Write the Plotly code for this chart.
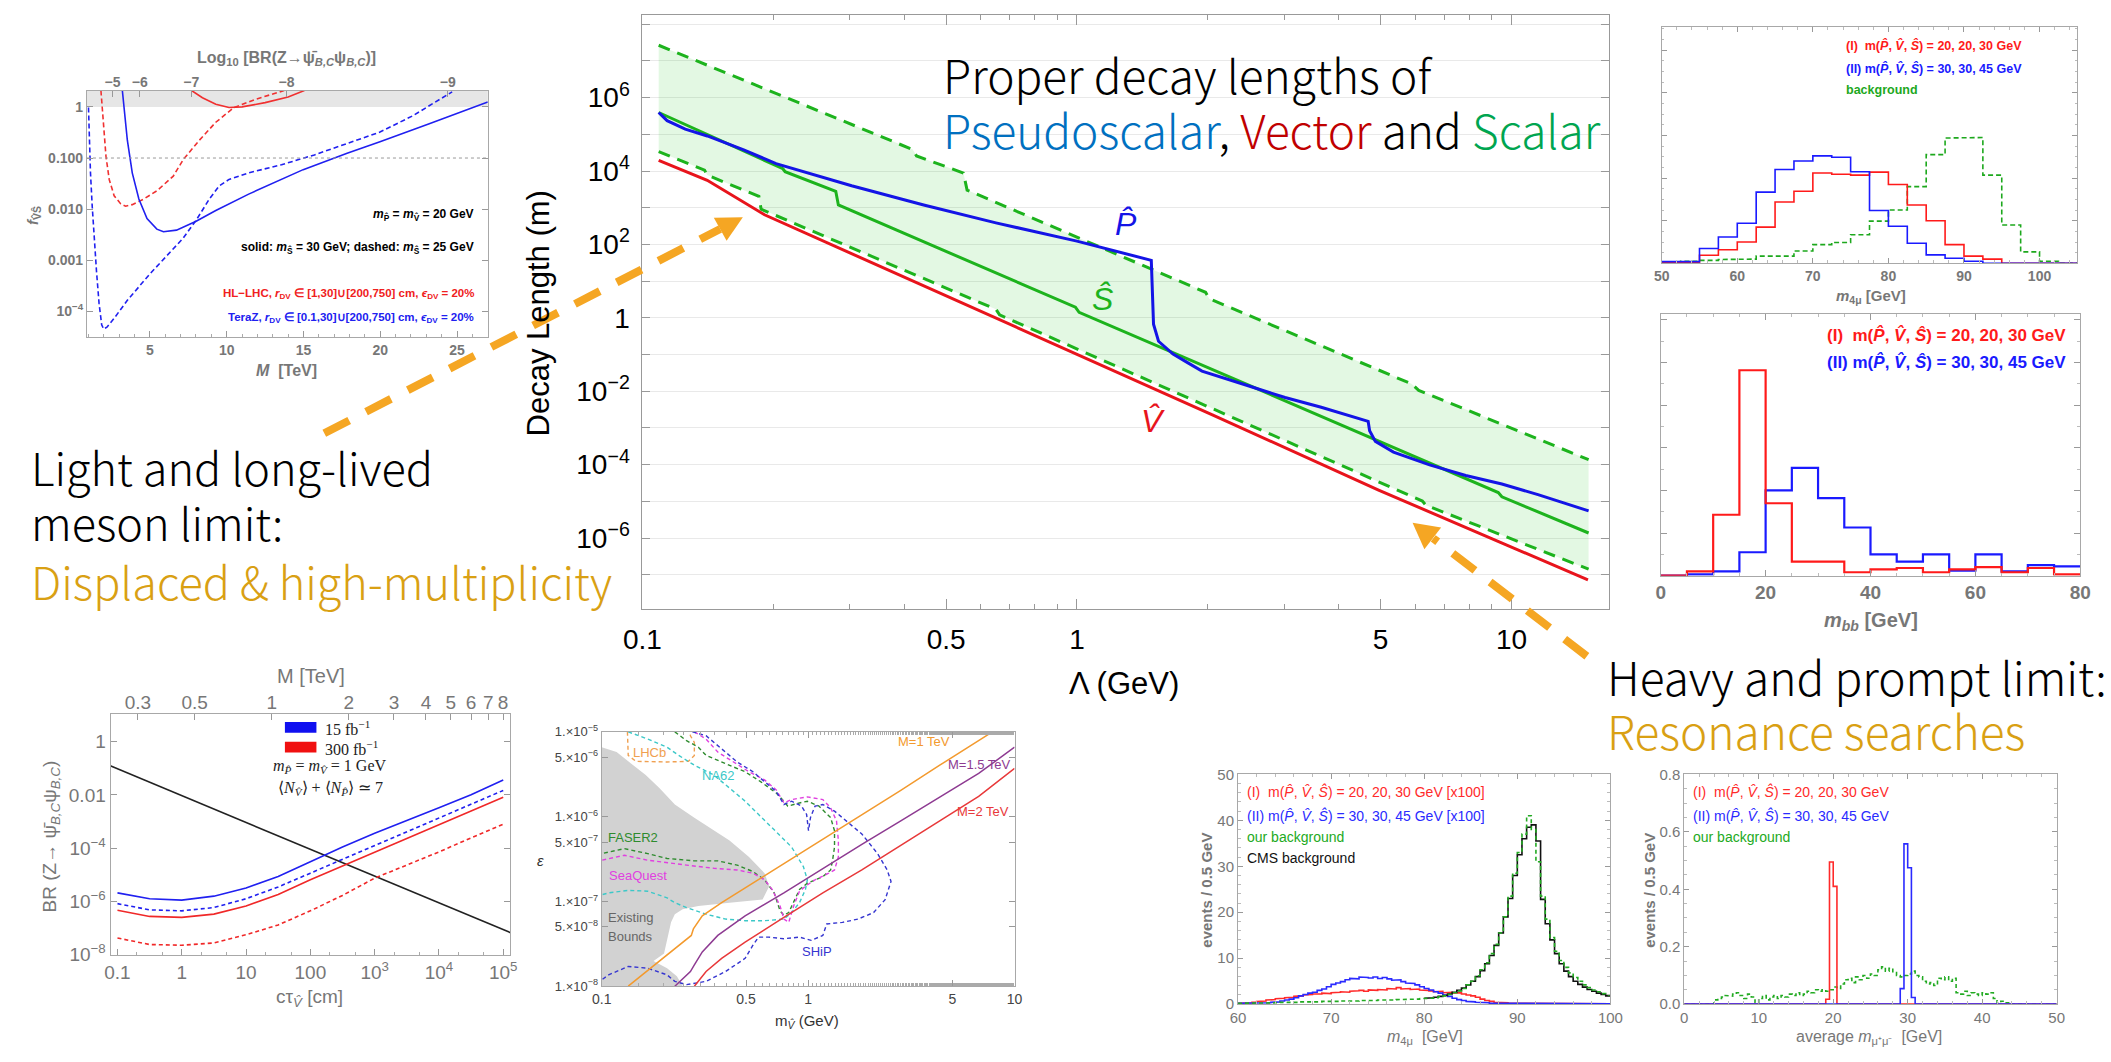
import plotly.graph_objects as go

W, H = 2111, 1062

# ================= MAIN CHART DATA (Lambda in GeV, decay length in m) =================
lam_red = [0.109, 0.141, 0.191, 0.444, 1.0, 2.05, 4.96, 15.0]
L_red = [1.95e4, 5.6e3, 643, 7.41, 0.1, 2.29e-3, 2.0e-5, 7.3e-8]

lam_s_up = [0.109, 0.419, 0.4275, 0.548, 0.5588, 1.977, 2.016, 5.888, 6.117, 15.05]
L_s_up = [2.67e7, 3.84e4, 2.57e4, 8.83e3, 3.03e3, 4.97, 3.33, 1.59e-2, 1.06e-2, 1.37e-4]

lam_s_lo = [0.109, 0.139, 0.141, 0.1854, 0.1876, 0.651, 0.6637, 6.237, 6.358, 15.05]
L_s_lo = [3.36e4, 1.06e4, 7.73e3, 2.03e3, 910, 1.71, 1.205, 1.02e-5, 7.83e-6, 1.42e-7]

lam_s = [0.109, 0.2105, 0.213, 0.2786, 0.2825, 0.992, 1.0116, 9.324, 9.504, 15.05]
L_s = [3.93e5, 1.153e4, 9.57e3, 2.80e3, 1.19e3, 1.95, 1.416, 1.746e-5, 1.337e-5, 1.377e-6]

lam_p = [0.109, 0.114, 0.1255, 0.141, 0.1705, 0.203, 0.303, 0.444, 0.651, 1.0, 1.483, 1.5006,
         1.541, 1.664, 1.797, 1.940, 2.488, 3.013, 3.649, 4.680, 4.716, 4.862, 5.352, 6.48,
         7.848, 9.504, 11.51, 15.05]
L_p = [3.93e5, 2.36e5, 1.384e5, 9.02e4, 3.84e4, 1.589e4, 3.96e3, 1.189e3, 387, 123, 36.9, 0.67,
       0.23, 0.103, 0.0604, 0.0354, 0.0139, 6.76e-3, 3.66e-3, 1.51e-3, 8.41e-4, 4.32e-4, 2.21e-4,
       9.91e-5, 5.08e-5, 2.98e-5, 1.53e-5, 5.53e-6]

main_x_ticks = [0.1, 0.5, 1, 5, 10]
main_x_ticktext = ["0.1", "0.5", "1", "5", "10"]
main_x_minor = [0.2, 0.3, 0.4, 0.6, 0.7, 0.8, 0.9, 2, 3, 4, 6, 7, 8, 9]
main_y_ticks = [1e-7, 1e-6, 1e-5, 1e-4, 1e-3, 1e-2, 1e-1, 1, 1e1, 1e2, 1e3, 1e4, 1e5, 1e6, 1e7, 1e8]
main_y_ticktext = ["", "10<sup>−6</sup>", "", "10<sup>−4</sup>", "", "10<sup>−2</sup>", "", "1",
                   "", "10<sup>2</sup>", "", "10<sup>4</sup>", "", "10<sup>6</sup>", "", ""]

# ================= PANEL A: f vs M [TeV] =================
a_M_bs = [3.205, 3.31, 3.53, 3.85, 4.28, 4.81, 5.45, 5.88, 6.73, 8.01, 9.29, 11.43, 14.98, 17.84, 19.98, 23.19, 27.0]
a_f_bs = [2.09, 0.97, 0.223, 0.0513, 0.0158, 6.53e-3, 4.07e-3, 3.63e-3, 3.89e-3, 5.81e-3, 9.42e-3, 0.0197,
          0.0593, 0.124, 0.207, 0.466, 1.25]
a_M_bd = [1.0, 1.05, 1.13, 1.24, 1.37, 1.52, 1.69, 1.86, 1.99, 2.20, 2.67, 3.53, 4.98, 6.09, 7.16, 8.01,
          8.87, 9.51, 10.15, 11.43, 13.57, 15.71, 17.84, 19.98, 22.12, 24.68]
a_f_bd = [0.97, 0.223, 0.0513, 0.01175, 2.70e-3, 6.19e-4, 1.42e-4, 5.47e-5, 4.52e-5, 4.93e-5, 7.35e-5,
          1.65e-4, 5.35e-4, 1.20e-3, 2.70e-3, 6.07e-3, 0.0158, 0.0284, 0.0381, 0.0513, 0.074, 0.115,
          0.192, 0.322, 0.671, 1.97]
a_M_rd = [1.81, 1.99, 2.14, 2.35, 2.67, 3.10, 3.42, 3.85, 4.60, 5.45, 6.52, 7.16, 8.22, 9.29, 10.47, 11.86, 13.74]
a_f_rd = [2.09, 0.466, 0.107, 0.0381, 0.0183, 0.01265, 0.01143, 0.01227, 0.0158, 0.0228, 0.0442, 0.0922,
          0.223, 0.501, 0.97, 1.40, 2.09]
a_M_rs = [7.71, 8.42, 9.29, 10.15, 11.0, 12.5, 14.0, 15.06]
a_f_rs = [2.09, 1.51, 1.125, 0.97, 1.0, 1.21, 1.556, 2.09]
a_top_M = [2.56, 4.34, 7.69, 13.9, 24.4]
a_top_text = ["−5", "−6", "−7", "−8", "−9"]
a_y_ticks = [1e-4, 1e-3, 1e-2, 0.1, 1]
a_y_text = ["10<sup>−4</sup>", "0.001", "0.010", "0.100", "1"]

# ================= PANEL B: m_4mu-like histogram (2.5 GeV bins from 50) =================
b_start, b_width = 50.0, 2.5
b_blue = [0.004, 0.004, 0.035, 0.062, 0.094, 0.167, 0.220, 0.240, 0.252, 0.249, 0.215, 0.124, 0.087,
          0.047, 0.020, 0.012, 0.005, 0, 0, 0, 0, 0]
b_red = [0.002, 0.002, 0.019, 0.032, 0.050, 0.085, 0.144, 0.169, 0.212, 0.209, 0.207, 0.214, 0.185,
         0.137, 0.100, 0.044, 0.017, 0.010, 0, 0, 0, 0]
b_green = [0.002, 0.005, 0.007, 0.009, 0.010, 0.017, 0.017, 0.029, 0.044, 0.049, 0.067, 0.099, 0.125,
           0.180, 0.255, 0.294, 0.295, 0.207, 0.090, 0.027, 0.005, 0]

# ================= PANEL C: m_bb histogram (5 GeV bins) =================
c_start, c_width = 0.0, 5.0
c_red = [0, 0.010, 0.143, 0.482, 0.170, 0.033, 0.033, 0.008, 0.015, 0.018, 0.008, 0.015, 0.020, 0.008, 0.018, 0.003]
c_blue = [0, 0.003, 0.010, 0.055, 0.200, 0.253, 0.182, 0.113, 0.050, 0.033, 0.050, 0.012, 0.050, 0.010, 0.025, 0.022]

# ================= PANEL D: BR vs c tau [cm] =================
d_ctau = [0.1, 0.316, 1, 3.16, 10, 31.6, 100, 316, 1000, 3160, 1e4, 3.16e4, 1e5]
d_blue_s = [2.07e-6, 1.25e-6, 1.11e-6, 1.56e-6, 3.18e-6, 8.55e-6, 3.06e-5, 1.09e-4, 3.60e-4, 1.05e-3, 3.27e-3, 0.0102, 0.0364]
d_blue_d = [8.15e-7, 4.76e-7, 4.38e-7, 5.81e-7, 1.25e-6, 3.46e-6, 1.14e-5, 3.73e-5, 1.26e-4, 3.92e-4, 1.32e-3, 4.35e-3, 0.0147]
d_red_s = [4.62e-7, 2.70e-7, 2.48e-7, 3.30e-7, 6.68e-7, 1.80e-6, 6.44e-6, 2.12e-5, 7.16e-5, 2.22e-4, 7.52e-4, 2.47e-3, 8.11e-3]
d_red_d = [4.17e-8, 2.37e-8, 2.23e-8, 2.72e-8, 5.53e-8, 1.29e-7, 4.38e-7, 1.66e-6, 7.43e-6, 2.31e-5, 7.16e-5, 2.42e-4, 7.94e-4]
d_black_ctau = [0.075, 1.3e5]
d_black_br = [0.127, 6.6e-8]
d_x_ticks = [0.1, 1, 10, 100, 1e3, 1e4, 1e5]
d_x_text = ["0.1", "1", "10", "100", "10<sup>3</sup>", "10<sup>4</sup>", "10<sup>5</sup>"]
d_y_ticks = [1, 1e-2, 1e-4, 1e-6, 1e-8]
d_y_text = ["1", "0.01", "10<sup>−4</sup>", "10<sup>−6</sup>", "10<sup>−8</sup>"]
d_top_ticks = [0.3, 0.5, 1, 2, 3, 4, 5, 6, 7, 8]

# ================= PANEL E: epsilon vs m_V [GeV] =================
e_bound_m = [0.1, 0.118, 0.1344, 0.1633, 0.1902, 0.226, 0.281, 0.3495, 0.416, 0.517, 0.615, 0.6477, 0.6015,
             0.416, 0.2938, 0.2466, 0.226, 0.2167, 0.2073, 0.2004, 0.1782, 0.2073, 0.2313, 0.2466, 0.1]
e_bound_eps = [6.59e-6, 5.77e-6, 4.49e-6, 3.09e-6, 2.17e-6, 1.39e-6, 9.73e-7, 6.82e-7, 5.22e-7, 3.35e-7,
               2.15e-7, 1.51e-7, 1.05e-7, 9.65e-8, 8.83e-8, 8.08e-8, 7.07e-8, 5.66e-8, 3.63e-8, 2.43e-8,
               1.98e-8, 1.63e-8, 1.31e-8, 1.0e-8, 1.0e-8]
e_m1_m = [0.1344, 0.1902, 0.2466, 0.2716, 0.278, 0.307, 0.381, 0.495, 0.763, 1.178, 1.82, 2.81, 4.34, 7.81]
e_m1_eps = [1.0e-8, 1.98e-8, 3.32e-8, 3.97e-8, 4.74e-8, 6.76e-8, 9.65e-8, 1.44e-7, 2.75e-7, 5.37e-7,
            1.045e-6, 2.04e-6, 4.04e-6, 1.0e-5]
e_m15_m = [0.226, 0.2689, 0.281, 0.307, 0.365, 0.495, 0.763, 1.178, 1.82, 2.81, 4.34, 6.70, 10.0]
e_m15_eps = [1.0e-8, 1.49e-8, 1.78e-8, 2.54e-8, 3.97e-8, 6.76e-8, 1.26e-7, 2.46e-7, 4.70e-7, 8.91e-7,
             1.69e-6, 3.23e-6, 6.59e-6]
e_m2_m = [0.281, 0.3203, 0.381, 0.495, 0.763, 1.178, 1.82, 2.81, 4.34, 6.70, 10.0]
e_m2_eps = [1.0e-8, 1.49e-8, 2.13e-8, 3.32e-8, 6.47e-8, 1.26e-7, 2.35e-7, 4.57e-7, 8.91e-7, 1.73e-6, 3.70e-6]
e_lhcb_m = [0.1332, 0.1344, 0.1466, 0.2073, 0.263, 0.281, 0.281, 0.2689, 0.267]
e_lhcb_eps = [1.0e-5, 5.27e-6, 4.49e-6, 4.41e-6, 4.49e-6, 5.27e-6, 7.52e-6, 8.99e-6, 1.0e-5]
e_na62_m = [0.1344, 0.167, 0.2073, 0.236, 0.281, 0.3495, 0.416, 0.495, 0.642, 0.832, 0.948, 0.991, 0.970,
            0.908, 0.832, 0.763, 0.615, 0.495, 0.398, 0.3203, 0.2576, 0.226, 0.2073, 0.167, 0.1344, 0.108, 0.1]
e_na62_eps = [1.0e-5, 8.22e-6, 6.59e-6, 5.27e-6, 4.04e-6, 3.09e-6, 2.17e-6, 1.52e-6, 8.15e-7, 4.37e-7,
              2.57e-7, 1.80e-7, 1.38e-7, 9.65e-8, 7.39e-8, 6.19e-8, 5.92e-8, 5.92e-8, 6.19e-8, 7.07e-8,
              8.45e-8, 9.65e-8, 1.10e-7, 1.32e-7, 1.35e-7, 1.26e-7, 1.20e-7]
e_faser_m = [0.226, 0.2576, 0.2938, 0.3203, 0.398, 0.495, 0.588, 0.700, 0.763, 0.797, 0.908, 0.991, 1.128,
             1.285, 1.342, 1.342, 1.313, 1.285, 1.178, 0.991, 0.908, 0.851, 0.805, 0.763, 0.731, 0.685,
             0.615, 0.540, 0.453, 0.365, 0.281, 0.2073, 0.167, 0.1287, 0.1]
e_faser_eps = [1.0e-5, 7.87e-6, 6.59e-6, 5.27e-6, 4.22e-6, 3.38e-6, 2.59e-6, 1.90e-6, 1.52e-6, 1.33e-6,
               1.45e-6, 1.52e-6, 1.33e-6, 9.73e-7, 6.82e-7, 4.37e-7, 3.06e-7, 2.35e-7, 1.96e-7, 1.64e-7,
               1.38e-7, 9.65e-8, 7.39e-8, 6.89e-8, 7.73e-8, 1.26e-7, 1.80e-7, 2.25e-7, 2.68e-7, 3.01e-7,
               3.01e-7, 3.21e-7, 3.66e-7, 4.19e-7, 3.66e-7]
e_sea_m = [0.281, 0.3203, 0.365, 0.434, 0.517, 0.615, 0.700, 0.763, 0.832, 0.991, 1.178, 1.285, 1.372,
           1.401, 1.401, 1.342, 1.257, 1.080, 0.991, 0.908, 0.851, 0.805, 0.763, 0.731, 0.670, 0.615,
           0.540, 0.453, 0.3495, 0.2576, 0.2073, 0.167, 0.1287, 0.1]
e_sea_eps = [1.0e-5, 8.22e-6, 5.77e-6, 4.41e-6, 3.38e-6, 2.71e-6, 2.07e-6, 1.45e-6, 1.59e-6, 1.71e-6,
             1.59e-6, 1.27e-6, 8.91e-7, 5.22e-7, 3.35e-7, 2.35e-7, 2.15e-7, 1.80e-7, 1.57e-7, 1.32e-7,
             8.83e-8, 5.66e-8, 6.19e-8, 8.83e-8, 1.38e-7, 1.80e-7, 2.15e-7, 2.35e-7, 2.46e-7, 2.68e-7,
             2.86e-7, 3.06e-7, 3.50e-7, 3.06e-7]
e_ship_m = [0.275, 0.3203, 0.381, 0.453, 0.540, 0.615, 0.700, 0.763, 0.832, 0.929, 0.983, 1.004, 1.026,
            1.080, 1.178, 1.342, 1.531, 1.82, 2.17, 2.415, 2.52, 2.36, 2.075, 1.744, 1.466, 1.230, 1.178,
            1.034, 0.908, 0.763, 0.642, 0.575, 0.540, 0.495, 0.398, 0.3203, 0.2576, 0.226, 0.2073, 0.167,
            0.1344, 0.108, 0.1]
e_ship_eps = [1.0e-5, 8.99e-6, 6.3e-6, 4.41e-6, 3.38e-6, 2.59e-6, 1.98e-6, 1.39e-6, 1.52e-6, 1.33e-6,
              1.06e-6, 6.82e-7, 9.73e-7, 1.33e-6, 1.39e-6, 1.16e-6, 8.91e-7, 6.24e-7, 3.66e-7, 2.35e-7,
              1.72e-7, 1.05e-7, 7.39e-8, 6.19e-8, 5.66e-8, 5.42e-8, 3.97e-8, 3.47e-8, 3.79e-8, 3.63e-8,
              3.79e-8, 3.79e-8, 3.04e-8, 2.13e-8, 1.49e-8, 1.14e-8, 1.045e-8, 1.14e-8, 1.36e-8, 1.63e-8,
              1.71e-8, 1.36e-8, 1.19e-8]
e_x_ticks = [0.1, 0.5, 1, 5, 10]
e_x_text = ["0.1", "0.5", "1", "5", "10"]
e_y_ticks = [1e-5, 5e-6, 1e-6, 5e-7, 1e-7, 5e-8, 1e-8]
e_y_text = ["1.×10<sup>−5</sup>", "5.×10<sup>−6</sup>", "1.×10<sup>−6</sup>", "5.×10<sup>−7</sup>",
            "1.×10<sup>−7</sup>", "5.×10<sup>−8</sup>", "1.×10<sup>−8</sup>"]

# ================= PANEL F: m_4mu histograms (0.5 GeV bins from 60) =================
f_start, f_width = 60.0, 0.5
f_blue = [0.2, 0.2, 0.2, 0.2, 0.3, 0.3, 0.3, 0.4,
          0.5, 0.7, 0.9, 1.1, 1.4, 1.8, 2.1, 2.4,
          2.6, 3.0, 3.3, 3.8, 4.3, 4.6, 4.9, 5.3,
          5.6, 5.5, 5.9, 5.8, 5.7, 5.9, 5.6, 5.8,
          5.5, 5.2, 5.3, 4.9, 4.6, 4.5, 4.2, 3.8,
          3.4, 3.1, 2.7, 2.4, 2.0, 1.7, 1.3, 1.0,
          0.8, 0.6, 0.5, 0.4, 0.3, 0.3, 0.2, 0.2,
          0.2, 0.2, 0.2, 0.1, 0.1, 0.1, 0.1, 0.1,
          0.1, 0.1, 0.1, 0.1, 0.1, 0.1, 0.1, 0.1,
          0.1, 0.1, 0.1, 0.1, 0.1, 0.1, 0.1, 0.1]
f_red = [0.2, 0.2, 0.3, 0.4, 0.6, 0.7, 0.9, 1.0,
         1.2, 1.3, 1.4, 1.5, 1.7, 1.8, 2.0, 2.1,
         2.2, 2.2, 2.4, 2.3, 2.5, 2.6, 2.7, 2.6,
         2.8, 2.9, 3.0, 2.8, 3.1, 3.0, 3.2, 3.1,
         3.4, 3.3, 3.6, 3.3, 3.4, 3.2, 3.3, 3.1,
         3.0, 2.9, 2.7, 2.8, 2.5, 2.6, 2.4, 2.5,
         2.2, 2.0, 1.8, 1.5, 1.1, 0.8, 0.6, 0.4,
         0.3, 0.3, 0.2, 0.2, 0.2, 0.1, 0.1, 0.1,
         0.1, 0.1, 0.1, 0.1, 0.1, 0.1, 0.1, 0.1,
         0.1, 0.1, 0.1, 0.1, 0.1, 0.1, 0.1, 0.1]
f_green = [0.2, 0.2, 0.3, 0.2, 0.3, 0.3, 0.2, 0.3,
           0.3, 0.4, 0.3, 0.4, 0.4, 0.5, 0.4, 0.5,
           0.5, 0.5, 0.6, 0.5, 0.6, 0.6, 0.7, 0.6,
           0.7, 0.7, 0.8, 0.7, 0.8, 0.8, 0.9, 0.8,
           0.9, 0.9, 1.0, 1.0, 1.1, 1.0, 1.1, 1.2,
           1.2, 1.3, 1.4, 1.6, 1.8, 2.1, 2.5, 2.9,
           3.4, 4.2, 5.0, 6.2, 7.5, 9.0, 11.0, 13.0,
           15.5, 19.0, 23.5, 28.5, 33.0, 37.0, 41.0, 38.0,
           31.0, 23.5, 18.5, 14.5, 11.5, 9.5, 8.0, 6.8,
           5.8, 5.0, 4.2, 3.6, 3.1, 2.7, 2.3, 2.0]
f_black_start = 80.0
f_black = [1.3, 1.4, 1.5, 1.7, 1.9, 2.2, 2.6, 3.0,
           3.5, 4.2, 5.0, 6.0, 7.3, 8.8, 10.6, 12.8,
           15.5, 19.0, 23.0, 28.0, 32.5, 36.0, 38.5, 39.0,
           35.5, 22.8, 17.5, 14.0, 11.0, 8.8, 7.2, 6.0,
           5.0, 4.3, 3.7, 3.2, 2.8, 2.4, 2.1, 1.8]

# ================= PANEL G: average m_mumu histograms (0.5 GeV bins from 0) =================
g_start, g_width = 0.0, 0.5
g_red = [0, 0, 0, 0, 0, 0, 0, 0, 0, 0,
         0, 0, 0, 0, 0, 0, 0, 0, 0, 0,
         0, 0, 0, 0, 0, 0, 0, 0, 0, 0,
         0, 0, 0, 0, 0, 0, 0, 0, 0.017, 0.495,
         0.41, 0, 0, 0, 0, 0, 0, 0, 0, 0,
         0, 0, 0, 0, 0, 0, 0, 0, 0, 0,
         0, 0, 0, 0, 0, 0, 0, 0, 0, 0,
         0, 0, 0, 0, 0, 0, 0, 0, 0, 0,
         0, 0, 0, 0, 0, 0, 0, 0, 0, 0,
         0, 0, 0, 0, 0, 0, 0, 0, 0, 0]
g_blue = [0, 0, 0, 0, 0, 0, 0, 0, 0, 0,
          0, 0, 0, 0, 0, 0, 0, 0, 0, 0,
          0, 0, 0, 0, 0, 0, 0, 0, 0, 0,
          0, 0, 0, 0, 0, 0, 0, 0, 0, 0,
          0, 0, 0, 0, 0, 0, 0, 0, 0, 0,
          0, 0, 0, 0, 0, 0, 0, 0, 0.054, 0.558,
          0.475, 0.023, 0, 0, 0, 0, 0, 0, 0, 0,
          0, 0, 0, 0, 0, 0, 0, 0, 0, 0,
          0, 0, 0, 0, 0, 0, 0, 0, 0, 0,
          0, 0, 0, 0, 0, 0, 0, 0, 0, 0]
g_green = [0, 0, 0, 0, 0, 0, 0, 0,
           0.015, 0.02, 0.025, 0.03, 0.028, 0.035, 0.04, 0.03,
           0.02, 0.035, 0.025, 0.005, 0.02, 0.03, 0.015, 0.025,
           0.03, 0.02, 0.03, 0.025, 0.035, 0.03, 0.04, 0.03,
           0.035, 0.045, 0.04, 0.05, 0.045, 0.05, 0.045, 0.05,
           0.06, 0.055, 0.07, 0.085, 0.09, 0.075, 0.095, 0.085,
           0.1, 0.09, 0.105, 0.1, 0.12, 0.13, 0.115, 0.125,
           0.11, 0.1, 0.095, 0.1, 0.105, 0.115, 0.1, 0.095,
           0.08, 0.07, 0.075, 0.065, 0.09, 0.085, 0.095, 0.08,
           0.09, 0.04, 0.035, 0.045, 0.03, 0.04, 0.035, 0.03,
           0.04, 0.035, 0.04, 0.02, 0.005, 0.01, 0.005, 0.005,
           0, 0, 0, 0, 0, 0, 0, 0,
           0, 0, 0, 0]


# ================= helpers =================
def dom_x(a, b):
    return [a / W, b / W]


def dom_y(top, bottom):
    return [1 - bottom / H, 1 - top / H]


def px(x):
    return x / W


def py(y):
    return 1 - y / H


def steps(start, width, vals):
    xs, ys = [], []
    for i, v in enumerate(vals):
        x0 = start + i * width
        xs += [x0, x0 + width]
        ys += [v, v]
    return xs, ys


fig = go.Figure()


def line(x, y, color, width=2, dash=None, xa="x", ya="y", fill=None, fillcolor=None):
    ln = dict(color=color, width=width)
    if dash:
        ln["dash"] = dash
    fig.add_trace(go.Scatter(x=x, y=y, mode="lines", line=ln, xaxis=xa, yaxis=ya,
                             fill=fill, fillcolor=fillcolor, hoverinfo="skip", showlegend=False))


# ---- main ----
fig.add_trace(go.Scatter(x=lam_s_up + lam_s_lo[::-1], y=L_s_up + L_s_lo[::-1], fill="toself",
                         fillcolor="rgba(0,190,0,0.11)", line=dict(width=0), mode="lines",
                         hoverinfo="skip", showlegend=False, xaxis="x", yaxis="y"))
line(lam_red, L_red, "#E8141C", 3)
line(lam_s_up, L_s_up, "#1DB31D", 3, "12px,8px")
line(lam_s_lo, L_s_lo, "#1DB31D", 3, "12px,8px")
line(lam_s, L_s, "#1DB31D", 3)
line(lam_p, L_p, "#1414E6", 3)

# ---- panel A ----
fig.add_shape(type="rect", xref="x2 domain", yref="y2", x0=0, x1=1, y0=1, y1=2.09,
              fillcolor="#e6e6e6", line=dict(width=0), layer="below")
fig.add_shape(type="line", xref="x2 domain", yref="y2", x0=0, x1=1, y0=0.1, y1=0.1,
              line=dict(color="#999", width=1, dash="dot"))
line(a_M_rs, a_f_rs, "#F03030", 1.6, xa="x2", ya="y2")
line(a_M_rd, a_f_rd, "#F03030", 1.6, "5px,3px", xa="x2", ya="y2")
line(a_M_bd, a_f_bd, "#2020F0", 1.6, "5px,3px", xa="x2", ya="y2")
line(a_M_bs, a_f_bs, "#2020F0", 1.6, xa="x2", ya="y2")
fig.add_trace(go.Scatter(x=[a_top_M[0]], y=[0.01], mode="markers", marker=dict(opacity=0),
                         xaxis="x3", yaxis="y2", hoverinfo="skip", showlegend=False))

# ---- panel B ----
for vals, col, dsh in [(b_green, "#1DA81D", "5px,3px"), (b_red, "#FF1A1A", None), (b_blue, "#1A1AFF", None)]:
    xs, ys = steps(b_start, b_width, vals)
    line(xs, ys, col, 1.6, dsh, xa="x4", ya="y4")

# ---- panel C ----
for vals, col in [(c_blue, "#1A1AFF"), (c_red, "#FF1A1A")]:
    xs, ys = steps(c_start, c_width, vals)
    line(xs, ys, col, 2.2, xa="x5", ya="y5")

# ---- panel D ----
line(d_black_ctau, d_black_br, "#222", 1.6, xa="x6", ya="y6")
line(d_ctau, d_blue_s, "#2020F0", 1.6, xa="x6", ya="y6")
line(d_ctau, d_blue_d, "#2020F0", 1.6, "4px,3px", xa="x6", ya="y6")
line(d_ctau, d_red_s, "#F02828", 1.6, xa="x6", ya="y6")
line(d_ctau, d_red_d, "#F02828", 1.6, "4px,3px", xa="x6", ya="y6")
fig.add_trace(go.Scatter(x=[1], y=[1e-3], mode="markers", marker=dict(opacity=0),
                         xaxis="x7", yaxis="y6", hoverinfo="skip", showlegend=False))

# ---- panel E ----
fig.add_trace(go.Scatter(x=e_bound_m, y=e_bound_eps, fill="toself", fillcolor="#d2d2d2",
                         line=dict(width=0), mode="lines", xaxis="x8", yaxis="y8",
                         hoverinfo="skip", showlegend=False))
line(e_lhcb_m, e_lhcb_eps, "#F0A050", 1.4, "4px,3px", xa="x8", ya="y8")
line(e_na62_m, e_na62_eps, "#3CC8C8", 1.4, "4px,3px", xa="x8", ya="y8")
line(e_faser_m, e_faser_eps, "#2E8B2E", 1.4, "4px,3px", xa="x8", ya="y8")
line(e_sea_m, e_sea_eps, "#E040E0", 1.4, "4px,3px", xa="x8", ya="y8")
line(e_ship_m, e_ship_eps, "#3535D0", 1.4, "4px,3px", xa="x8", ya="y8")
line(e_m1_m, e_m1_eps, "#F39A2E", 1.5, xa="x8", ya="y8")
line(e_m15_m, e_m15_eps, "#8E3B92", 1.5, xa="x8", ya="y8")
line(e_m2_m, e_m2_eps, "#E8393A", 1.5, xa="x8", ya="y8")

# ---- panel F ----
xs, ys = steps(f_start, f_width, f_red)
line(xs, ys, "#FF2A2A", 1.6, xa="x9", ya="y9")
xs, ys = steps(f_start, f_width, f_blue)
line(xs, ys, "#2A2AFF", 1.6, xa="x9", ya="y9")
xs, ys = steps(f_black_start, f_width, f_black)
line(xs, ys, "#111", 1.6, xa="x9", ya="y9")
xs, ys = steps(f_start, f_width, f_green)
line(xs, ys, "#22AA22", 1.6, "4px,3px", xa="x9", ya="y9")

# ---- panel G ----
xs, ys = steps(g_start, g_width, g_green)
line(xs, ys, "#22AA22", 1.6, "4px,3px", xa="x10", ya="y10")
xs, ys = steps(g_start, g_width, g_red)
line(xs, ys, "#FF2A2A", 1.6, xa="x10", ya="y10")
xs, ys = steps(g_start, g_width, g_blue)
line(xs, ys, "#2A2AFF", 1.6, xa="x10", ya="y10")

# ================= axes =================
GRAY = "#777777"
SANS = "Liberation Sans, Arial, sans-serif"
NARROW = "Liberation Sans Narrow, Arial Narrow, Liberation Sans, sans-serif"
SERIF = "Liberation Serif, Times New Roman, serif"
BIG = "Noto Sans CJK SC, Source Sans Pro, Noto Sans, sans-serif"


def frame(**kw):
    d = dict(showline=True, mirror=True, linecolor="#a8a8a8", linewidth=1, zeroline=False,
             showgrid=False, ticks="inside", tickcolor="#999", fixedrange=True)
    d.update(kw)
    return d


layout_axes = dict(
    xaxis=frame(domain=dom_x(633, 1614), anchor="y", type="log", range=[-1, 1.2234],
                tickvals=main_x_ticks, ticktext=main_x_ticktext, ticklen=10, mirror="ticks",
                linecolor="#999",
                minor=dict(tickvals=main_x_minor, ticks="inside", ticklen=5, tickcolor="#999"),
                tickfont=dict(family=SANS, size=28, color="black"), ticklabelstandoff=6),
    yaxis=frame(domain=dom_y(6.5, 610.5), anchor="x", type="log", range=[-7.92, 8.24],
                tickvals=main_y_ticks, ticktext=main_y_ticktext, ticklen=8, mirror="ticks",
                linecolor="#999", showgrid=True, gridcolor="#e9e9e9",
                tickfont=dict(family=SANS, size=28, color="black"), ticklabelstandoff=6),
    # panel A
    xaxis2=frame(domain=dom_x(69, 476), anchor="y2", range=[0.9, 27.0], tickvals=[5, 10, 15, 20, 25],
                 ticklen=6, minor=dict(dtick=1, ticks="inside", ticklen=3, tickcolor="#aaa"),
                 tickfont=dict(family=SANS, size=14, color=GRAY, weight="bold")),
    xaxis3=dict(overlaying="x2", anchor="y2", side="top", range=[0.9, 27.0], tickvals=a_top_M,
                ticktext=a_top_text, ticks="inside", ticklen=6, tickcolor="#999", showline=False,
                showgrid=False, zeroline=False, fixedrange=True,
                tickfont=dict(family=SANS, size=14, color=GRAY, weight="bold")),
    yaxis2=frame(domain=dom_y(83, 334), anchor="x2", type="log", range=[-4.5, 0.32],
                 tickvals=a_y_ticks, ticktext=a_y_text, ticklen=6, mirror="ticks",
                 tickfont=dict(family=SANS, size=14, color=GRAY, weight="bold")),
    # panel B
    xaxis4=frame(domain=dom_x(1668, 2090), anchor="y4", range=[50, 105], tickvals=[50, 60, 70, 80, 90, 100],
                 ticklen=5, mirror="ticks", minor=dict(dtick=2, ticks="inside", ticklen=3, tickcolor="#bbb"),
                 tickfont=dict(family=SANS, size=14, color=GRAY, weight="bold")),
    yaxis4=frame(domain=dom_y(18, 259), anchor="x4", range=[0, 0.555], dtick=0.1, ticklen=5,
                 mirror="ticks", showticklabels=False,
                 minor=dict(dtick=0.025, ticks="inside", ticklen=2, tickcolor="#bbb")),
    # panel C
    xaxis5=frame(domain=dom_x(1667, 2093), anchor="y5", range=[0, 80], tickvals=[0, 20, 40, 60, 80],
                 ticklen=6, mirror="ticks", minor=dict(dtick=5, ticks="inside", ticklen=3, tickcolor="#bbb"),
                 tickfont=dict(family=SANS, size=19, color=GRAY, weight="bold")),
    yaxis5=frame(domain=dom_y(311, 577), anchor="x5", range=[0, 0.613], dtick=0.1, ticklen=6,
                 mirror="ticks", showticklabels=False,
                 minor=dict(dtick=0.05, ticks="inside", ticklen=3, tickcolor="#bbb")),
    # panel D
    xaxis6=frame(domain=dom_x(93, 499), anchor="y6", type="log", range=[-1.107, 5.112],
                 tickvals=d_x_ticks, ticktext=d_x_text, ticklen=6,
                 minor=dict(ticks="inside", ticklen=3, tickcolor="#aaa", showgrid=False),
                 tickfont=dict(family=SANS, size=19, color=GRAY)),
    xaxis7=dict(overlaying="x6", anchor="y6", side="top", type="log", range=[-0.6296, 0.9319],
                tickvals=d_top_ticks, ticks="inside", ticklen=6, tickcolor="#999", showline=False,
                showgrid=False, zeroline=False, fixedrange=True,
                tickfont=dict(family=SANS, size=19, color=GRAY)),
    yaxis6=frame(domain=dom_y(718, 963), anchor="x6", type="log", range=[-8.01, 1.034],
                 tickvals=d_y_ticks, ticktext=d_y_text, ticklen=6, mirror="ticks",
                 tickfont=dict(family=SANS, size=19, color=GRAY)),
    # panel E
    xaxis8=frame(domain=dom_x(591.7, 1010.9), anchor="y8", type="log", range=[-1, 1],
                 tickvals=e_x_ticks, ticktext=e_x_text, ticklen=6, mirror="ticks",
                 minor=dict(ticks="inside", ticklen=3, tickcolor="#aaa", showgrid=False),
                 tickfont=dict(family=SANS, size=14, color="#444")),
    yaxis8=frame(domain=dom_y(736, 995), anchor="x8", type="log", range=[-8, -5],
                 tickvals=e_y_ticks, ticktext=e_y_text, ticklen=6, mirror="ticks",
                 tickfont=dict(family=SANS, size=13, color="#444")),
    # panel F
    xaxis9=frame(domain=dom_x(1237.8, 1615.9), anchor="y9", range=[60, 100], dtick=10, ticklen=5,
                 mirror="ticks", minor=dict(dtick=2, ticks="inside", ticklen=3, tickcolor="#bbb"),
                 tickfont=dict(family=NARROW, size=15, color=GRAY)),
    yaxis9=frame(domain=dom_y(779.3, 1013.3), anchor="x9", range=[0, 50], dtick=10, ticklen=5,
                 mirror="ticks", minor=dict(dtick=2, ticks="inside", ticklen=3, tickcolor="#bbb"),
                 tickfont=dict(family=NARROW, size=15, color=GRAY)),
    # panel G
    xaxis10=frame(domain=dom_x(1690.9, 2069), anchor="y10", range=[0, 50], dtick=10, ticklen=5,
                  mirror="ticks", minor=dict(dtick=2, ticks="inside", ticklen=3, tickcolor="#bbb"),
                  tickfont=dict(family=NARROW, size=15, color=GRAY)),
    yaxis10=frame(domain=dom_y(779.3, 1013.3), anchor="x10", range=[0, 0.8], dtick=0.2, ticklen=5,
                  tickformat=".1f", mirror="ticks",
                  minor=dict(dtick=0.05, ticks="inside", ticklen=3, tickcolor="#bbb"),
                  tickfont=dict(family=NARROW, size=15, color=GRAY)),
)

# ================= annotations =================
anns = []


def ann(text, x, y, size, color="black", xanchor="center", family=SANS, angle=0, weight=None):
    f = dict(family=family, size=size, color=color)
    if weight:
        f["weight"] = weight
    anns.append(dict(text=text, x=px(x), y=py(y), xref="paper", yref="paper", showarrow=False,
                     xanchor=xanchor, yanchor="middle", textangle=angle, font=f))


ORANGE_TXT = "#D9A013"
# big texts
ann("Proper decay lengths of", 936, 66, 46, "black", "left", BIG, weight=300)
ann("<span style='color:#0070C0'>Pseudoscalar</span>, <span style='color:#C00000'>Vector</span>"
    " and <span style='color:#00A550'>Scalar</span>", 936, 122, 46, "black", "left", BIG, weight=300)
ann("Light and long-lived", 10, 466, 45, "black", "left", BIG, weight=300)
ann("meson limit:", 10, 522, 45, "black", "left", BIG, weight=300)
ann("Displaced &amp; high-multiplicity", 10, 582, 45, ORANGE_TXT, "left", BIG, weight=300)
ann("Heavy and prompt limit:", 1610, 679, 46, "black", "left", BIG, weight=300)
ann("Resonance searches", 1610, 734, 46, ORANGE_TXT, "left", BIG, weight=300)

# main axis titles and labels
ann("Decay Length (m)", 527, 310, 31, "black", angle=-90)
ann("Λ (GeV)", 1122, 687, 31, "black")
ann("<i>P̂</i>", 1124, 219, 32, "#1414E6")
ann("<i>Ŝ</i>", 1100, 295, 32, "#1DB31D")
ann("<i>V̂</i>", 1151, 419, 32, "#E8141C")

# panel A
ann("<b>Log<sub>10</sub> [BR(Z→ψ̄<sub><i>B,C</i></sub>ψ<sub><i>B,C</i></sub>)]</b>", 272, 50, 16, GRAY)
ann("<b><i>f</i><sub>V̂Ŝ</sub></b>", 14, 210, 15, GRAY, angle=-90)
ann("<b><i>M</i>  [TeV]</b>", 272, 368, 16, GRAY)
ann("<b><i>m</i><sub>P̂</sub> = <i>m</i><sub>V̂</sub> = 20 GeV</b>", 464, 210, 12, "black", "right")
ann("<b>solid: <i>m</i><sub>Ŝ</sub> = 30 GeV; dashed: <i>m</i><sub>Ŝ</sub> = 25 GeV</b>", 464, 243, 12, "black", "right")
ann("<b>HL−LHC, <i>r</i><sub>DV</sub> ∈ [1,30]∪[200,750] cm, <i>ϵ</i><sub>DV</sub> = 20%</b>", 464, 290, 11.5, "#F02020", "right")
ann("<b>TeraZ, <i>r</i><sub>DV</sub> ∈ [0.1,30]∪[200,750] cm, <i>ϵ</i><sub>DV</sub> = 20%</b>", 464, 315, 11.5, "#2020F0", "right")

# panel B
ann("<b>(I)  m(<i>P̂</i>, <i>V̂</i>, <i>Ŝ</i>) = 20, 20, 30 GeV</b>", 1853, 37, 12.5, "#FF1A1A", "left")
ann("<b>(II) m(<i>P̂</i>, <i>V̂</i>, <i>Ŝ</i>) = 30, 30, 45 GeV</b>", 1853, 61, 12.5, "#1A1AFF", "left")
ann("<b>background</b>", 1853, 82, 12.5, "#1DA81D", "left")
ann("<b><i>m</i><sub>4μ</sub> [GeV]</b>", 1880, 293, 15, GRAY)

# panel C
ann("<b>(I)  m(<i>P̂</i>, <i>V̂</i>, <i>Ŝ</i>) = 20, 20, 30 GeV</b>", 2081, 332, 17, "#FF1A1A", "right")
ann("<b>(II) m(<i>P̂</i>, <i>V̂</i>, <i>Ŝ</i>) = 30, 30, 45 GeV</b>", 2081, 359, 17, "#1A1AFF", "right")
ann("<b><i>m<sub>bb</sub></i> [GeV]</b>", 1880, 624, 20, GRAY)

# panel D
ann("M [TeV]", 297, 679, 20, GRAY)
ann("BR (Z→ ψ̄<sub><i>B,C</i></sub>ψ<sub><i>B,C</i></sub>)", 32, 843, 19, GRAY, angle=-90)
ann("cτ<sub><i>V̂</i></sub> [cm]", 295, 1007, 19, GRAY)
ann("15 fb<sup>−1</sup>", 309, 732, 16, "#222", "left", SERIF)
ann("300 fb<sup>−1</sup>", 309, 752, 16, "#222", "left", SERIF)
ann("<i>m</i><sub><i>P̂</i></sub> = <i>m</i><sub><i>V̂</i></sub> = 1 GeV", 316, 771, 16, "#222", "center", SERIF)
ann("⟨<i>N</i><sub><i>V̂</i></sub>⟩ + ⟨<i>N</i><sub><i>P̂</i></sub>⟩ ≃ 7", 316, 794, 16, "#222", "center", SERIF)

# panel E
ann("<i>ε</i>", 530, 867, 15, "#333")
ann("m<sub><i>V̂</i></sub> (GeV)", 800, 1031, 15, "#333")
ann("LHCb", 640, 757, 13, "#F0A050")
ann("NA62", 710, 780, 13, "#3CC8C8")
ann("FASER2", 623, 844, 13, "#2E8B2E")
ann("SeaQuest", 629, 882, 13, "#E040E0")
ann("Existing", 621, 925, 13, "#666")
ann("Bounds", 621, 944, 13, "#666")
ann("SHiP", 810, 960, 13, "#3535D0")
ann("M=1 TeV", 919, 746, 13, "#F39A2E")
ann("M=1.5 TeV", 975, 769, 13, "#8E3B92")
ann("M=2 TeV", 979, 817, 13, "#E8393A")

# panel F
ann("(I)  m(<i>P̂</i>, <i>V̂</i>, <i>Ŝ</i>) = 20, 20, 30 GeV [x100]", 1245, 797, 14, "#FF2A2A", "left", NARROW)
ann("(II) m(<i>P̂</i>, <i>V̂</i>, <i>Ŝ</i>) = 30, 30, 45 GeV [x100]", 1245, 821, 14, "#2A2AFF", "left", NARROW)
ann("our background", 1245, 843, 14, "#22AA22", "left", NARROW)
ann("CMS background", 1245, 864, 14, "#111", "left", NARROW)
ann("<b>events / 0.5 GeV</b>", 1206, 897, 15, GRAY, angle=-90)
ann("<i>m</i><sub>4μ</sub>  [GeV]", 1428, 1047, 16, GRAY, family=NARROW)

# panel G
ann("(I)  m(<i>P̂</i>, <i>V̂</i>, <i>Ŝ</i>) = 20, 20, 30 GeV", 1698, 797, 14, "#FF2A2A", "left", NARROW)
ann("(II) m(<i>P̂</i>, <i>V̂</i>, <i>Ŝ</i>) = 30, 30, 45 GeV", 1698, 821, 14, "#2A2AFF", "left", NARROW)
ann("our background", 1698, 843, 14, "#22AA22", "left", NARROW)
ann("<b>events / 0.5 GeV</b>", 1656, 897, 15, GRAY, angle=-90)
ann("average <i>m</i><sub>μ⁺μ⁻</sub>  [GeV]", 1878, 1047, 16, GRAY, family=NARROW)

# ================= decorative shapes (legend swatches, arrows) =================
shapes = []
shapes.append(dict(type="rect", xref="paper", yref="paper", x0=px(270), x1=px(302), y0=py(737), y1=py(726),
                   fillcolor="#1010F0", line=dict(width=0)))
shapes.append(dict(type="rect", xref="paper", yref="paper", x0=px(270), x1=px(302), y0=py(757), y1=py(746),
                   fillcolor="#F01010", line=dict(width=0)))

ARROW = "#F5A623"
# left arrow: shaft + head
shapes.append(dict(type="line", xref="paper", yref="paper", x0=px(310), y0=py(432), x1=px(712), y1=py(224),
                   line=dict(color=ARROW, width=8, dash="28px,19px"), layer="above"))
shapes.append(dict(type="path", xref="paper", yref="paper",
                   path=f"M {px(735)} {py(212)} L {px(718.5)} {py(236)} L {px(705.5)} {py(212.5)} Z",
                   fillcolor=ARROW, line=dict(width=0), layer="above"))
# right arrow
shapes.append(dict(type="line", xref="paper", yref="paper", x0=px(1592), y0=py(659), x1=px(1436), y1=py(539),
                   line=dict(color=ARROW, width=8, dash="28px,19px"), layer="above"))
shapes.append(dict(type="path", xref="paper", yref="paper",
                   path=f"M {px(1415)} {py(523)} L {px(1444)} {py(528)} L {px(1427)} {py(550)} Z",
                   fillcolor=ARROW, line=dict(width=0), layer="above"))

fig.update_layout(
    width=W, height=H, autosize=False,
    margin=dict(l=0, r=0, t=0, b=0, pad=0),
    paper_bgcolor="white", plot_bgcolor="white",
    showlegend=False,
    annotations=anns,
    **layout_axes,
)
for s in shapes:
    fig.add_shape(**s)

fig.write_html("out.html", config={"displayModeBar": False, "staticPlot": True},
               post_script="document.body.style.margin='0px';document.body.style.overflow='hidden';")
